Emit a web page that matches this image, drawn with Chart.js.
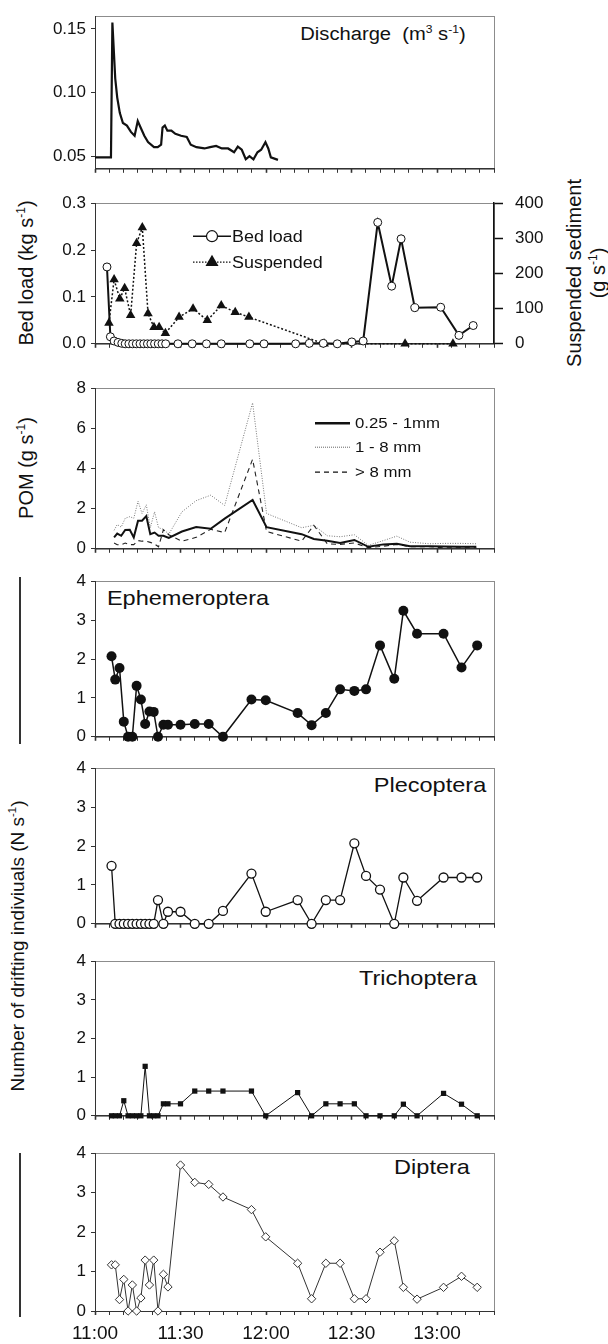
<!DOCTYPE html>
<html lang="en">
<head>
<meta charset="UTF-8">
<title>Flow pulse: discharge, sediment, POM and drift</title>
<script src="https://cdn.jsdelivr.net/npm/chart.js"></script>
<style>
  body { margin: 0; background: #fff; }
  #page { position: relative; width: 608px; height: 1344px; overflow: hidden;
          font-family: "Liberation Sans", Arial, sans-serif; color: #111; }
  #page canvas { position: absolute; left: 0; }
  .lbl { position: absolute; white-space: nowrap; line-height: 1;
         transform: translate(-50%, -50%) scaleX(1.12); }
  .rot { position: absolute; white-space: nowrap; line-height: 1; text-align: center;
         transform: translate(-50%, -50%) rotate(-90deg); }
  sup { font-size: 0.6em; vertical-align: 0.65em; line-height: 0; }
  .bar { position: absolute; left: 19px; width: 1.5px; background: #333; }
</style>
</head>
<body>
<div id="page">
  <div class="lbl" style="left:383px; top:34px; font-size:18px;">Discharge&nbsp; (m<sup>3</sup> s<sup>-1</sup>)</div>
  <div class="rot" style="left:26px; top:273px; font-size:20px;">Bed load (kg s<sup>-1</sup>)</div>
  <div class="rot" style="left:586px; top:273px; font-size:20px; line-height:24px;">Suspended sediment<br>(g s<sup>-1</sup>)</div>
  <div class="rot" style="left:26px; top:468px; font-size:20px;">POM (g s<sup>-1</sup>)</div>
  <div class="lbl" style="left:188px; top:597px; font-size:21px;">Ephemeroptera</div>
  <div class="lbl" style="left:430px; top:784px; font-size:21px;">Plecoptera</div>
  <div class="lbl" style="left:418px; top:977px; font-size:21px;">Trichoptera</div>
  <div class="lbl" style="left:432px; top:1166px; font-size:21px;">Diptera</div>
  <div class="rot" style="left:17px; top:946px; font-size:19px;">Number of drifting indiviuals (N s<sup>-1</sup>)</div>
  <div class="bar" style="top:577px; height:167px;"></div>
  <div class="bar" style="top:1153px; height:164px;"></div>
</div>

<script>
// all times are minutes after 11:00
const timeTicks = ['11:00', '11:30', '12:00', '12:30', '13:00'];

const dischargeTime = [0, 5.6, 6.1, 7.1, 7.8, 8.7, 9.8, 11.2, 12.6, 13.9, 15.0, 16.0, 17.3, 18.6, 20.7,
  22.0, 23.2, 23.7, 24.5, 25.4, 26.8, 28.2, 30.2, 32.2, 33.6, 35.6, 38.4, 40.4, 42.5, 44.5, 46.7,
  48.8, 50.1, 51.5, 52.9, 54.2, 55.6, 57.0, 58.3, 59.8, 60.8, 61.7, 64.2];
const discharge = [0.049, 0.049, 0.155, 0.111, 0.096, 0.084, 0.076, 0.074, 0.069, 0.066, 0.0775, 0.0725,
  0.066, 0.061, 0.057, 0.057, 0.059, 0.0725, 0.074, 0.070, 0.070, 0.0675, 0.066, 0.065, 0.059, 0.057,
  0.056, 0.057, 0.058, 0.056, 0.056, 0.053, 0.0575, 0.055, 0.0475, 0.050, 0.0475, 0.053, 0.055, 0.061,
  0.056, 0.049, 0.047];
const dischargeTicks = [0.05, 0.10, 0.15];

const bedTime = [4.2, 5.4, 6.7, 8.1, 9.4, 10.6, 11.9, 13.2, 14.5, 15.8, 17.1, 18.4, 19.6, 20.9, 22.2,
  23.5, 24.8, 29.1, 34.1, 39.1, 44.3, 54.3, 59.3, 70.4, 75.2, 80.1, 85.0, 90.1, 94.1, 99.2, 104.1,
  107.4, 112.2, 121.3, 127.7, 132.7];
const bedLoad = [0.164, 0.015, 0.006, 0.003, 0.001, 0, 0, 0, 0, 0, 0, 0, 0, 0, 0, 0, 0,
  0, 0, 0, 0, 0, 0, 0, 0.001, 0.001, 0, 0.004, 0.006, 0.259, 0.123, 0.224, 0.077, 0.078, 0.018, 0.039];

const suspTime = [4.9, 6.7, 8.7, 10.4, 12.5, 14.6, 16.6, 18.6, 20.7, 22.5, 24.7, 29.5, 34.4, 39.4,
  44.3, 49.2, 54.0, 80.4, 108.8, 125.6];
const suspended = [59, 183, 128, 158, 81, 286, 331, 86, 47, 47, 30, 76, 100, 67, 109, 90, 76, 0, 0, 0];

const pomTime = [6.7, 7.8, 9.2, 10.6, 12.2, 13.6, 15.1, 16.5, 18.0, 19.4, 20.9, 22.3, 24.0, 25.9, 30.5,
  35.5, 40.6, 45.5, 55.3, 60.2, 72.5, 76.8, 81.5, 86.0, 91.0, 95.9, 101.2, 105.9, 110.5, 117.5,
  122.5, 128.5, 133.8];
const pomFine = [0.57, 0.76, 0.65, 0.94, 0.95, 0.57, 1.40, 1.40, 1.63, 0.73, 0.81, 0.65, 0.65, 0.54,
  0.86, 1.08, 1.00, 1.50, 2.43, 1.08, 0.73, 0.49, 0.40, 0.29, 0.44, 0.10, 0.22, 0.25, 0.13, 0.13,
  0.12, 0.10, 0.10];
const pomMid = [0.92, 1.21, 1.08, 1.52, 1.60, 1.52, 2.37, 1.76, 2.19, 1.05, 1.84, 1.05, 0.97, 0.73,
  1.84, 2.40, 2.67, 2.16, 7.27, 1.76, 1.05, 1.17, 0.65, 0.60, 0.70, 0.17, 0.41, 0.63, 0.33, 0.25,
  0.27, 0.27, 0.25];
const pomCoarse = [0.29, 0.20, 0.20, 0.29, 0.21, 0.21, 0.41, 0.38, 0.38, 0.32, 0.24, 0.10, 0.95, 0.70,
  0.38, 0.57, 0.97, 0.81, 4.46, 0.86, 0.38, 1.17, 0.25, 0.22, 0.29, 0.06, 0.13, 0.22, 0.10, 0.10,
  0.05, 0.05, 0.05];

const driftTime = [5.8, 7.1, 8.6, 10.1, 11.6, 13.1, 14.6, 16.1, 17.6, 19.1, 20.6, 22.1, 24.0, 25.6,
  30.0, 35.0, 39.9, 44.9, 54.9, 59.9, 71.1, 76.0, 81.0, 86.0, 91.0, 95.1, 100.0, 105.0, 108.2, 113.0,
  122.3, 128.6, 134.1];
const ephemeroptera = [2.07, 1.47, 1.77, 0.39, 0, 0, 1.31, 0.96, 0.33, 0.65, 0.64, 0, 0.31, 0.31,
  0.31, 0.33, 0.33, 0, 0.96, 0.94, 0.61, 0.30, 0.61, 1.22, 1.18, 1.22, 2.35, 1.49, 3.24, 2.65, 2.65,
  1.78, 2.35];
const plecoptera = [1.49, 0, 0, 0, 0, 0, 0, 0, 0, 0, 0, 0.61, 0, 0.31, 0.31, 0, 0, 0.33, 1.29, 0.31,
  0.61, 0, 0.61, 0.61, 2.07, 1.23, 0.88, 0, 1.19, 0.59, 1.19, 1.19, 1.19];
const trichoptera = [0, 0, 0, 0.39, 0, 0, 0, 0, 1.28, 0, 0, 0, 0.31, 0.31, 0.31, 0.64, 0.64, 0.64,
  0.64, 0, 0.60, 0, 0.31, 0.31, 0.31, 0, 0, 0, 0.30, 0, 0.58, 0.30, 0];
const diptera = [1.17, 1.17, 0.29, 0.80, 0, 0.66, 0, 0.33, 1.29, 0.66, 1.29, 0, 0.93, 0.61, 3.70,
  3.26, 3.21, 2.89, 2.57, 1.88, 1.21, 0.31, 1.21, 1.21, 0.31, 0.31, 1.49, 1.78, 0.60, 0.30, 0.60,
  0.88, 0.60];

const xy = (t, v) => t.map((x, i) => ({ x, y: v[i] }));

Chart.defaults.font.family = '"Liberation Sans", Arial, sans-serif';
Chart.defaults.color = '#111';
Chart.defaults.animation = false;

const AREA_L = 95;   // left edge of every plot area
const AREA_R = 494;  // right edge
const PAD_T = 11;

// grey box round the plot area, drawn before the axes so they sit on top
const frame = {
  id: 'frame',
  beforeDraw(chart) {
    const a = chart.chartArea, ctx = chart.ctx;
    ctx.save();
    ctx.strokeStyle = '#8c8c8c';
    ctx.lineWidth = 1;
    ctx.strokeRect(Math.round(a.left) + 0.5, Math.round(a.top) + 0.5, Math.round(a.width), Math.round(a.height));
    ctx.restore();
  }
};

// small legends inside the plot area
const keyBox = {
  id: 'keyBox',
  afterDraw(chart, args, opts) {
    if (!opts.items) return;
    const a = chart.chartArea, ctx = chart.ctx;
    opts.items.forEach(it => {
      const y = a.top + it.dy;
      const x0 = a.left + opts.x0, x1 = a.left + opts.x1, xm = (x0 + x1) / 2;
      ctx.save();
      ctx.strokeStyle = it.color;
      ctx.lineWidth = it.width;
      ctx.setLineDash(it.dash || []);
      ctx.beginPath();
      ctx.moveTo(x0, y);
      ctx.lineTo(x1, y);
      ctx.stroke();
      ctx.setLineDash([]);
      if (it.marker === 'circle') {
        ctx.beginPath();
        ctx.arc(xm, y, 5.5, 0, Math.PI * 2);
        ctx.fillStyle = '#fff';
        ctx.fill();
        ctx.lineWidth = 1.2;
        ctx.strokeStyle = '#111';
        ctx.stroke();
      } else if (it.marker === 'triangle') {
        const r = 7.5;
        ctx.beginPath();
        ctx.moveTo(xm, y - r);
        ctx.lineTo(xm + r * 0.87, y + r * 0.5);
        ctx.lineTo(xm - r * 0.87, y + r * 0.5);
        ctx.closePath();
        ctx.fillStyle = '#111';
        ctx.fill();
      }
      ctx.translate(a.left + opts.tx, y);
      ctx.scale(1.12, 1);
      ctx.font = opts.font;
      ctx.fillStyle = '#111';
      ctx.textBaseline = 'middle';
      ctx.fillText(it.label, 0, 1);
      ctx.restore();
    });
  }
};

function yAxis(min, max, step, fmt, extra) {
  return Object.assign({
    position: 'left', min, max,
    afterFit: s => { s.width = AREA_L; },
    ticks: { stepSize: step, padding: 5, font: { size: 17 }, callback: fmt },
    grid: { drawOnChartArea: false, tickLength: 4, tickColor: '#333' },
    border: { color: '#333', width: 1 }
  }, extra || {});
}

function panel(top, bottom, datasets, y, opts) {
  opts = opts || {};
  const xh = opts.showTime ? 34 : 12;
  const c = document.createElement('canvas');
  c.width = 608;
  c.height = bottom - top + PAD_T + xh;
  c.style.top = (top - PAD_T) + 'px';
  document.getElementById('page').appendChild(c);

  const scales = {
    x: {
      type: 'linear', min: 0, max: 140,
      afterFit: s => { s.height = xh; },
      ticks: {
        display: !!opts.showTime, stepSize: 5, autoSkip: false, maxRotation: 0, padding: 7,
        font: { size: 19 },
        callback: v => (v % 30 === 0 ? timeTicks[v / 30] : '')
      },
      grid: {
        drawOnChartArea: false, tickLength: 4, tickColor: '#333',
        tickWidth: ctx => (ctx.tick && ctx.tick.value % 30 === 0 ? 1.6 : 1)
      },
      border: { color: '#333', width: 1 }
    },
    y: y
  };
  if (opts.y2) scales.y2 = opts.y2;

  return new Chart(c, {
    type: 'line',
    data: { datasets },
    options: {
      responsive: false,
      layout: { padding: { left: 0, top: PAD_T, bottom: 0, right: opts.y2 ? 0 : 608 - AREA_R } },
      scales,
      plugins: { legend: { display: false }, tooltip: { enabled: false }, keyBox: opts.key || {} }
    },
    plugins: [frame, keyBox]
  });
}

const lineBase = { tension: 0, clip: false };

// Discharge
panel(12, 172, [
  Object.assign({ data: xy(dischargeTime, discharge), borderColor: '#111', borderWidth: 2.2, pointRadius: 0 }, lineBase)
], yAxis(0.04, 0.16, 0.05, v => v.toFixed(2), {
  afterBuildTicks: s => { s.ticks = dischargeTicks.map(value => ({ value })); }
}));

// Bed load and suspended sediment
panel(192, 354, [
  Object.assign({
    data: xy(bedTime, bedLoad), yAxisID: 'y', borderColor: '#111', borderWidth: 2,
    pointStyle: 'circle', pointRadius: 4, pointBackgroundColor: '#fff', pointBorderColor: '#111', pointBorderWidth: 1
  }, lineBase),
  Object.assign({
    data: xy(suspTime, suspended), yAxisID: 'y2', borderColor: '#111', borderWidth: 1.5, borderDash: [2, 2],
    pointStyle: 'triangle', pointRadius: 5.5, pointBackgroundColor: '#111', pointBorderColor: '#111', pointBorderWidth: 0
  }, lineBase)
], yAxis(0, 0.3, 0.1, v => v.toFixed(1)), {
  y2: {
    position: 'right', min: 0, max: 400,
    afterFit: s => { s.width = 608 - AREA_R; },
    ticks: { stepSize: 100, padding: 12, font: { size: 17 } },
    grid: { drawOnChartArea: false, tickLength: 9, tickColor: '#111', tickWidth: 1.5 },
    border: { color: '#111', width: 1.5 }
  },
  key: {
    x0: 98, x1: 136, tx: 137, font: '16px "Liberation Sans", Arial, sans-serif',
    items: [
      { label: 'Bed load', dy: 33, color: '#111', width: 1.5, marker: 'circle' },
      { label: 'Suspended', dy: 59, color: '#111', width: 1.3, dash: [1.5, 1.5], marker: 'triangle' }
    ]
  }
});

// POM size classes
panel(384, 552, [
  Object.assign({ data: xy(pomTime, pomFine), borderColor: '#111', borderWidth: 2, pointRadius: 0 }, lineBase),
  Object.assign({ data: xy(pomTime, pomCoarse), borderColor: '#222', borderWidth: 1.1, borderDash: [5, 4], pointRadius: 0 }, lineBase),
  Object.assign({ data: xy(pomTime, pomMid), borderColor: '#777', borderWidth: 1, borderDash: [1, 1.5], pointRadius: 0 }, lineBase)
], yAxis(0, 8, 2), {
  key: {
    x0: 220, x1: 255, tx: 260, font: '15px "Liberation Sans", Arial, sans-serif',
    items: [
      { label: '0.25 - 1mm', dy: 35, color: '#111', width: 2.5 },
      { label: '1 - 8 mm', dy: 59, color: '#666', width: 1, dash: [1, 1] },
      { label: '> 8 mm', dy: 84, color: '#111', width: 1.3, dash: [5, 4] }
    ]
  }
});

// Ephemeroptera
panel(577, 740, [
  Object.assign({
    data: xy(driftTime, ephemeroptera), borderColor: '#111', borderWidth: 1.5,
    pointRadius: 5, pointBackgroundColor: '#111', pointBorderColor: '#111', pointBorderWidth: 0
  }, lineBase)
], yAxis(0, 4, 1));

// Plecoptera
panel(764, 927, [
  Object.assign({
    data: xy(driftTime, plecoptera), borderColor: '#111', borderWidth: 1.3,
    pointRadius: 4.5, pointBackgroundColor: '#fff', pointBorderColor: '#111', pointBorderWidth: 1.3
  }, lineBase)
], yAxis(0, 4, 1));

// Trichoptera
panel(957, 1119, [
  Object.assign({
    data: xy(driftTime, trichoptera), borderColor: '#111', borderWidth: 1,
    pointStyle: 'rect', pointRadius: 3.7, pointBackgroundColor: '#111', pointBorderColor: '#111', pointBorderWidth: 0
  }, lineBase)
], yAxis(0, 4, 1));

// Diptera
panel(1149, 1311, [
  Object.assign({
    data: xy(driftTime, diptera), borderColor: '#333', borderWidth: 1,
    pointStyle: 'rectRot', pointRadius: 4.2, pointBackgroundColor: '#fff', pointBorderColor: '#333', pointBorderWidth: 1
  }, lineBase)
], yAxis(0, 4, 1), { showTime: true });
</script>
</body>
</html>
